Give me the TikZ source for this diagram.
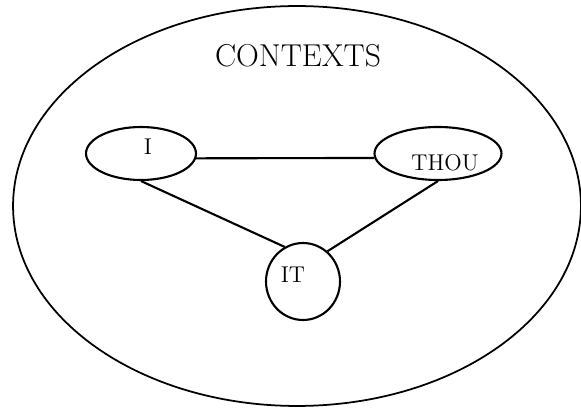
\documentclass[tikz,border=0pt]{standalone}
\usetikzlibrary{shapes.geometric}
\begin{document}
\begin{tikzpicture}[x=0.02cm, y=-0.02cm,
    blob/.style={ellipse, draw, line width=1.2pt, inner sep=0pt},
    lbl/.style={font=\fontsize{13}{15}\selectfont, inner sep=0pt}]
  \useasboundingbox (0,0) rectangle (581,408);
  % Outer context
  \node[ellipse, draw, line width=1pt, minimum width=11.36cm, minimum height=8cm] (ctx) at (297,206) {};
  \node[font=\fontsize{18}{21}\selectfont, inner sep=0pt] (ctxlbl) at (298,56) {CONTEXTS};
  % The three poles
  \node[blob, minimum width=2.2cm, minimum height=1.06cm] (i) at (141,153.5) {};
  \node[blob, minimum width=2.54cm, minimum height=1.06cm] (thou) at (438,153.5) {};
  \node[blob, minimum width=1.48cm, minimum height=1.54cm] (it) at (303,281.5) {};
  \node[lbl] (ilbl) at ([shift={(7,-6.5)}]i.center) {I};
  \node[lbl] (thoulbl) at ([shift={(7,9.5)}]thou.center) {THOU};
  \node[lbl] (itlbl) at ([shift={(-10,-6.5)}]it.center) {IT};
  % Connections between poles
  \foreach \a/\b in {i.-5/thou.184, i.south/it.118, thou.south/it.51} {
    \draw[line width=1.2pt] (\a) -- (\b);
  }
\end{tikzpicture}
\end{document}
